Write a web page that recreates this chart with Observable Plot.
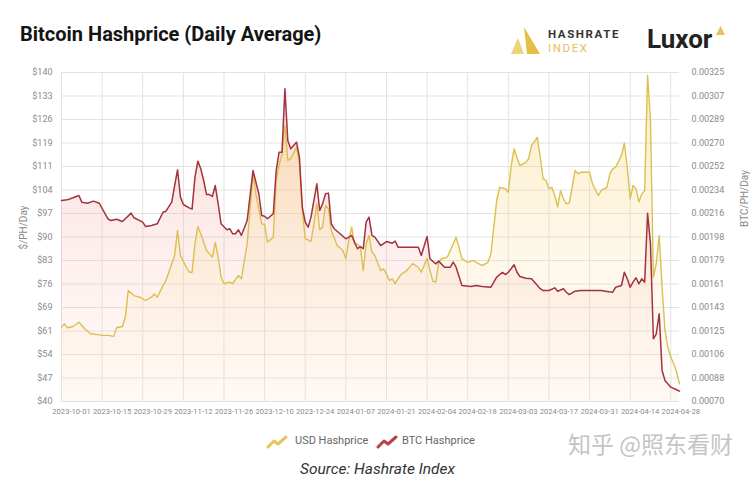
<!DOCTYPE html>
<html><head><meta charset="utf-8">
<script src="https://cdn.jsdelivr.net/npm/d3@7"></script>
<script src="https://cdn.jsdelivr.net/npm/@observablehq/plot@0.6"></script>
<style>
body{margin:0;background:#fff;font-family:Roboto,"Noto Sans",sans-serif;}
#wrap{position:relative;width:750px;height:482px;overflow:hidden;background:#fff;}
.abs{position:absolute;white-space:nowrap;}
#title{left:20px;top:22px;font-size:20px;font-weight:700;color:#141414;}
#chart{position:absolute;left:0;top:60px;}
.ylab{font-size:10px;color:#8a8a8a;transform:rotate(-90deg);transform-origin:center;}
.leg{font-size:11px;color:#666;}
</style></head><body><div id="wrap">
<div id="title" class="abs">Bitcoin Hashprice (Daily Average)</div>
<svg class="abs" style="left:510px;top:27px" width="32" height="28" viewBox="0 0 32 28">
  <polygon points="14,0 30,27 17,27" fill="#e6bd45"/>
  <polygon points="8,11 14,27 1,27" fill="#f0d27c"/>
</svg>
<div class="abs" style="left:548px;top:27px;font-size:11.5px;font-weight:700;letter-spacing:1.6px;color:#333">HASHRATE</div>
<div class="abs" style="left:548px;top:41px;font-size:11.5px;letter-spacing:1.6px;color:#e3c25e">INDEX</div>
<div class="abs" style="left:647px;top:24px;font-size:26px;font-weight:700;color:#222">Luxor</div>
<svg class="abs" style="left:716px;top:26px" width="9" height="9"><polygon points="4.5,0 9,9 0,9" fill="#e6c25a"/></svg>
<div class="abs ylab" style="left:2px;top:222px">$/PH/Day</div>
<div class="abs ylab" style="left:716px;top:193px">BTC/PH/Day</div>
<div id="chart"></div>
<svg class="abs" style="left:266px;top:435px" width="22" height="14"><polyline points="2,12 8,6 12,9 20,2" fill="none" stroke="#e8c65c" stroke-width="3" stroke-linejoin="round" stroke-linecap="round"/></svg>
<div class="abs leg" style="left:295px;top:434px">USD Hashprice</div>
<svg class="abs" style="left:376px;top:435px" width="22" height="14"><polyline points="2,12 8,6 12,9 20,2" fill="none" stroke="#b8404a" stroke-width="3" stroke-linejoin="round" stroke-linecap="round"/></svg>
<div class="abs leg" style="left:402px;top:434px">BTC Hashprice</div>
<div class="abs" style="left:300px;top:460px;font-size:15.5px;font-style:italic;color:#333">Source: Hashrate Index</div>
<div class="abs" style="left:568px;top:426px;font-size:23px;color:#c4c4c4;font-family:'Noto Sans CJK SC',sans-serif">知乎 @照东看财</div>
</div>
<script>
const usdDates = ["2023-10-01","2023-10-02","2023-10-03","2023-10-05","2023-10-07","2023-10-09","2023-10-11","2023-10-13","2023-10-15","2023-10-17","2023-10-19","2023-10-20","2023-10-22","2023-10-23","2023-10-24","2023-10-26","2023-10-28","2023-10-30","2023-11-01","2023-11-02","2023-11-03","2023-11-05","2023-11-06","2023-11-07","2023-11-09","2023-11-10","2023-11-11","2023-11-13","2023-11-14","2023-11-15","2023-11-16","2023-11-17","2023-11-18","2023-11-20","2023-11-22","2023-11-23","2023-11-24","2023-11-25","2023-11-26","2023-11-28","2023-11-29","2023-12-01","2023-12-02","2023-12-04","2023-12-06","2023-12-07","2023-12-09","2023-12-10","2023-12-11","2023-12-13","2023-12-14","2023-12-15","2023-12-16","2023-12-17","2023-12-18","2023-12-19","2023-12-21","2023-12-22","2023-12-23","2023-12-24","2023-12-26","2023-12-27","2023-12-28","2023-12-29","2023-12-30","2023-12-31","2024-01-01","2024-01-02","2024-01-04","2024-01-06","2024-01-07","2024-01-08","2024-01-09","2024-01-10","2024-01-11","2024-01-12","2024-01-13","2024-01-14","2024-01-15","2024-01-16","2024-01-17","2024-01-19","2024-01-20","2024-01-21","2024-01-22","2024-01-23","2024-01-24","2024-01-25","2024-01-26","2024-01-28","2024-01-30","2024-02-01","2024-02-02","2024-02-04","2024-02-05","2024-02-06","2024-02-07","2024-02-08","2024-02-09","2024-02-11","2024-02-13","2024-02-14","2024-02-15","2024-02-16","2024-02-18","2024-02-20","2024-02-21","2024-02-23","2024-02-25","2024-02-26","2024-02-27","2024-02-28","2024-02-29","2024-03-02","2024-03-03","2024-03-04","2024-03-05","2024-03-06","2024-03-07","2024-03-09","2024-03-10","2024-03-11","2024-03-13","2024-03-14","2024-03-15","2024-03-16","2024-03-17","2024-03-18","2024-03-19","2024-03-20","2024-03-21","2024-03-22","2024-03-23","2024-03-24","2024-03-25","2024-03-26","2024-03-27","2024-03-28","2024-03-30","2024-03-31","2024-04-01","2024-04-03","2024-04-04","2024-04-06","2024-04-07","2024-04-08","2024-04-09","2024-04-11","2024-04-12","2024-04-13","2024-04-14","2024-04-15","2024-04-16","2024-04-17","2024-04-18","2024-04-19","2024-04-20","2024-04-21","2024-04-22","2024-04-23","2024-04-24","2024-04-25","2024-04-26","2024-04-27","2024-04-28","2024-04-29","2024-04-30","2024-05-01"];
const usdValues = [62.6,63.6,62.4,62.8,64.1,62.1,60.6,60.4,60.1,60.1,59.8,62.4,62.8,65.6,73.7,72.2,71.7,70.7,71.7,72.7,71.7,75.3,76.8,79.3,84.4,92,84.4,80.8,79.3,79.3,87.9,93.2,91,85.9,83.9,88.4,83.9,77.8,75.8,76.3,75.8,78.3,77.3,87.9,109.2,103.1,94,93.8,88.4,89.9,107.2,111.7,115.3,124,113.3,113.8,117.3,112.7,98.1,89.5,88.7,94,100.1,92.2,93,99.6,98.6,92,87.4,85.9,83.4,88.9,93,87.9,87.9,86.9,79.8,87.9,90.5,85.4,84.4,79.8,80.3,78.8,76.8,77.3,75.8,77.3,78.6,79.8,81.9,80.8,79.3,83.5,79.8,76.6,76.3,82.3,83.4,83.9,87.9,89.9,86.9,83.4,82.3,82.9,82.3,81.3,82.3,84.9,93,101.1,105.1,104.7,103.6,111.7,116.8,114.1,111.7,112.7,113.8,117.8,120.3,114.3,107.7,107.2,104.7,105.1,102.6,99.1,104.1,101.6,100.1,100.3,105.1,110.2,109.2,109.7,109.7,109.7,106.2,102.6,104.1,105.1,109.2,110.7,111.2,114.8,118.5,111.2,101.6,105.7,104.7,100.6,103.1,104.1,139.1,125.4,77.8,81.9,90.5,74.7,61.6,56.5,53.5,51.5,48.9,45.4];

const btcDates = ["2023-10-01","2023-10-03","2023-10-05","2023-10-07","2023-10-08","2023-10-10","2023-10-12","2023-10-14","2023-10-17","2023-10-18","2023-10-20","2023-10-22","2023-10-25","2023-10-26","2023-10-29","2023-10-30","2023-11-01","2023-11-03","2023-11-05","2023-11-06","2023-11-08","2023-11-09","2023-11-10","2023-11-11","2023-11-12","2023-11-14","2023-11-15","2023-11-16","2023-11-17","2023-11-18","2023-11-19","2023-11-20","2023-11-21","2023-11-22","2023-11-23","2023-11-24","2023-11-25","2023-11-27","2023-11-28","2023-11-29","2023-11-30","2023-12-01","2023-12-02","2023-12-04","2023-12-06","2023-12-08","2023-12-09","2023-12-10","2023-12-11","2023-12-13","2023-12-14","2023-12-15","2023-12-16","2023-12-17","2023-12-18","2023-12-19","2023-12-21","2023-12-22","2023-12-23","2023-12-24","2023-12-25","2023-12-26","2023-12-28","2023-12-29","2023-12-30","2023-12-31","2024-01-01","2024-01-02","2024-01-03","2024-01-05","2024-01-07","2024-01-08","2024-01-09","2024-01-10","2024-01-11","2024-01-12","2024-01-13","2024-01-14","2024-01-15","2024-01-16","2024-01-17","2024-01-19","2024-01-21","2024-01-23","2024-01-24","2024-01-25","2024-01-28","2024-01-30","2024-02-01","2024-02-02","2024-02-04","2024-02-05","2024-02-07","2024-02-08","2024-02-10","2024-02-12","2024-02-13","2024-02-14","2024-02-16","2024-02-19","2024-02-21","2024-02-23","2024-02-26","2024-02-27","2024-02-28","2024-03-01","2024-03-02","2024-03-03","2024-03-05","2024-03-06","2024-03-07","2024-03-09","2024-03-11","2024-03-14","2024-03-15","2024-03-17","2024-03-19","2024-03-20","2024-03-22","2024-03-23","2024-03-24","2024-03-26","2024-03-28","2024-03-31","2024-04-02","2024-04-04","2024-04-06","2024-04-08","2024-04-09","2024-04-11","2024-04-12","2024-04-13","2024-04-14","2024-04-15","2024-04-16","2024-04-17","2024-04-18","2024-04-19","2024-04-20","2024-04-21","2024-04-22","2024-04-23","2024-04-24","2024-04-25","2024-04-26","2024-04-28","2024-04-30","2024-05-01"];
const btcValues = [0.002258,0.002263,0.002279,0.002297,0.002245,0.002237,0.002253,0.002237,0.002116,0.002103,0.002113,0.002095,0.00216,0.002124,0.00209,0.002056,0.002064,0.002077,0.002167,0.002175,0.002245,0.002374,0.002496,0.002284,0.002227,0.002201,0.002191,0.002439,0.002563,0.002504,0.002413,0.002304,0.002304,0.002289,0.002374,0.002232,0.002077,0.002031,0.002039,0.002,0.002,0.002031,0.001987,0.002103,0.00249,0.00231,0.002142,0.002136,0.002116,0.002155,0.00249,0.002632,0.002632,0.003124,0.002723,0.002659,0.00271,0.002594,0.002206,0.00209,0.002051,0.002129,0.002387,0.00218,0.002232,0.00231,0.002315,0.002077,0.002039,0.002,0.001961,0.001974,0.001987,0.001935,0.001884,0.001901,0.001884,0.00209,0.002129,0.001987,0.001974,0.001909,0.00194,0.001927,0.001943,0.001896,0.001896,0.001896,0.001896,0.001832,0.001979,0.001806,0.001767,0.001788,0.001741,0.001741,0.00178,0.001741,0.001599,0.001591,0.001599,0.001591,0.001586,0.001625,0.001664,0.001702,0.001684,0.001702,0.00176,0.001702,0.001669,0.001656,0.001651,0.001574,0.00156,0.00156,0.001581,0.001555,0.001574,0.001547,0.001529,0.001555,0.00156,0.00156,0.00156,0.00156,0.001553,0.001547,0.001586,0.001599,0.001702,0.001651,0.001586,0.001625,0.001659,0.001612,0.001651,0.001625,0.00216,0.001922,0.001186,0.001225,0.00138,0.00094,0.000863,0.000811,0.000791,0.00078];

const usdTickLabels = ["$40","$47","$54","$61","$69","$76","$83","$90","$97","$104","$111","$119","$126","$133","$140"];
const btcTickLabels = ["0.00070","0.00088","0.00106","0.00125","0.00143","0.00161","0.00179","0.00198","0.00216","0.00234","0.00252","0.00270","0.00289","0.00307","0.00325"];
const xTickLabels = ["2023-10-01","2023-10-15","2023-10-29","2023-11-12","2023-11-26","2023-12-10","2023-12-24","2024-01-07","2024-01-21","2024-02-04","2024-02-18","2024-03-03","2024-03-17","2024-03-31","2024-04-14","2024-04-28"];

const parse = d3.utcParse("%Y-%m-%d");
const btcToUsd = d3.scaleLinear().domain([0.0007, 0.00325]).range([40, 140]);
const usd = usdDates.map((d, i) => ({date: parse(d), v: usdValues[i]}));
const btc = btcDates.map((d, i) => ({date: parse(d), v: btcToUsd(btcValues[i])}));
const yTicks = usdTickLabels.map((_, i) => 40 + i * 100 / (usdTickLabels.length - 1));
const yIndex = d => Math.round((d - 40) * (usdTickLabels.length - 1) / 100);
const xTicks = xTickLabels.map(parse);

const gradients = () => {
  const g = document.createElementNS("http://www.w3.org/2000/svg", "g");
  g.innerHTML = `<defs>
    <linearGradient id="gBtc" x1="0" y1="0" x2="0" y2="1">
      <stop offset="0" stop-color="#f08c8c" stop-opacity="0.32"/>
      <stop offset="1" stop-color="#fbd8c6" stop-opacity="0.12"/>
    </linearGradient>
    <linearGradient id="gUsd" x1="0" y1="0" x2="0" y2="1">
      <stop offset="0" stop-color="#f5cf62" stop-opacity="0.38"/>
      <stop offset="1" stop-color="#fde6b8" stop-opacity="0.06"/>
    </linearGradient></defs>`;
  return g;
};

const chart = Plot.plot({
  width: 750, height: 365,
  marginTop: 12, marginBottom: 24, marginLeft: 61, marginRight: 71,
  style: {fontFamily: "Roboto, sans-serif", fontSize: "9px", color: "#8a8a8a", background: "transparent"},
  x: {type: "utc", domain: [parse("2023-10-01"), parse("2024-05-01")]},
  y: {domain: [40, 140]},
  marks: [
    gradients,
    Plot.gridY(yTicks, {stroke: "#e2e2e2", strokeOpacity: 1}),
    Plot.gridX(xTicks, {stroke: "#e2e2e2", strokeOpacity: 1}),
    Plot.areaY(btc, {x: "date", y1: 40, y2: "v", fill: "url(#gBtc)"}),
    Plot.areaY(usd, {x: "date", y1: 40, y2: "v", fill: "url(#gUsd)"}),
    Plot.lineY(usd, {x: "date", y: "v", stroke: "#dcc04f", strokeWidth: 1.4}),
    Plot.lineY(btc, {x: "date", y: "v", stroke: "#a3333f", strokeWidth: 1.5}),
    Plot.axisY(yTicks, {anchor: "left", tickSize: 0, tickPadding: 9, label: null, tickFormat: d => usdTickLabels[yIndex(d)]}),
    Plot.axisY(yTicks, {anchor: "right", tickSize: 0, tickPadding: 12, label: null, tickFormat: d => btcTickLabels[yIndex(d)]}),
    Plot.axisX(xTicks, {tickSize: 0, tickPadding: 7, label: null, fontSize: 7.6, dx: 10, tickFormat: d => xTickLabels[xTicks.findIndex(t => +t === +d)]})
  ]
});
document.getElementById("chart").appendChild(chart);
</script>
</body></html>
